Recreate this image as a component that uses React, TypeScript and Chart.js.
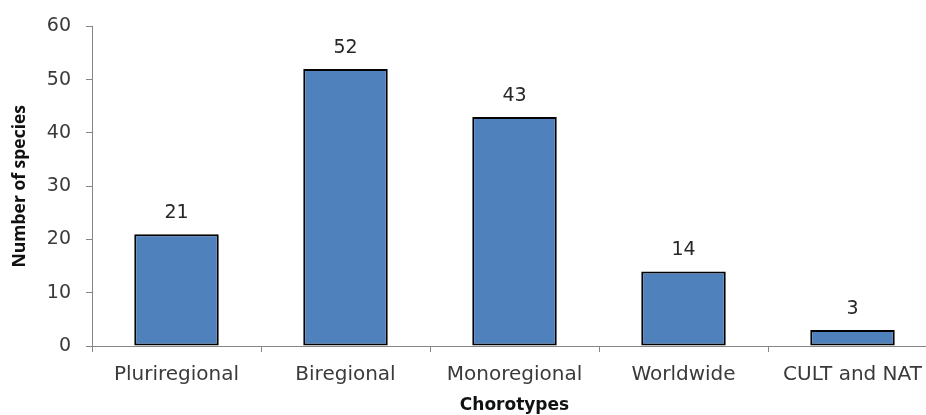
import React, { useEffect, useRef } from "react";
import { Chart, registerables } from "chart.js";

Chart.register(...registerables);

const categories = ["Pluriregional", "Biregional", "Monoregional", "Worldwide", "CULT and NAT"];
const speciesCounts = [21, 52, 43, 14, 3];
const yTicks = [0, 10, 20, 30, 40, 50, 60];

const AXIS_GREY = "#868686";
const TEXT_GREY = "#3a3a3a";

// Writes each bar's count just above it
const barValueLabels = {
  id: "barValueLabels",
  afterDatasetsDraw(chart: any) {
    const { ctx } = chart;
    const meta = chart.getDatasetMeta(0);
    ctx.save();
    ctx.font = "19px 'DejaVu Sans'";
    ctx.fillStyle = "#262626";
    ctx.textAlign = "center";
    ctx.textBaseline = "middle";
    meta.data.forEach((bar: any, i: number) => {
      ctx.fillText(String(speciesCounts[i]), bar.x, bar.y - 21);
    });
    ctx.restore();
  },
};

export default function App() {
  const canvasRef = useRef<HTMLCanvasElement | null>(null);

  useEffect(() => {
    if (!canvasRef.current) return;
    const chart = new Chart(canvasRef.current, {
      type: "bar",
      data: {
        labels: categories,
        datasets: [
          {
            data: speciesCounts,
            backgroundColor: "#4f81bd",
            borderColor: "#000000",
            borderWidth: 2,
            borderSkipped: false,
            categoryPercentage: 1,
            barPercentage: 0.5,
          },
        ],
      },
      options: {
        responsive: false,
        animation: false,
        layout: { padding: { left: 0, right: 8, top: 24, bottom: 0 } },
        plugins: {
          legend: { display: false },
          tooltip: { enabled: false },
        },
        scales: {
          x: {
            grid: {
              offset: true,
              drawOnChartArea: false,
              drawTicks: true,
              tickLength: 6,
              color: AXIS_GREY,
            },
            border: { color: AXIS_GREY, width: 1 },
            ticks: {
              color: TEXT_GREY,
              font: { family: "'DejaVu Sans'", size: 20 },
              padding: 11,
              maxRotation: 0,
              autoSkip: false,
            },
            title: {
              display: true,
              text: "Chorotypes",
              color: "#111111",
              font: { family: "'DejaVu Sans'", size: 17, weight: "bold" },
              padding: { top: 0, bottom: -1 },
            },
            afterFit(scale: any) {
              scale.height = 69;
            },
          },
          y: {
            min: 0,
            max: 60,
            afterBuildTicks(scale: any) {
              scale.ticks = yTicks.map((v) => ({ value: v }));
            },
            grid: {
              drawOnChartArea: false,
              drawTicks: true,
              tickLength: 6,
              color: AXIS_GREY,
            },
            border: { color: AXIS_GREY, width: 1 },
            ticks: {
              color: TEXT_GREY,
              font: { family: "'DejaVu Sans'", size: 19 },
              padding: 15,
            },
            title: {
              display: true,
              text: "Number of species",
              color: "#111111",
              font: { family: "'Open Sans'", size: 17.5, weight: "bold" },
              padding: { top: 10, bottom: 0 },
            },
            afterFit(scale: any) {
              scale.width = 92;
            },
          },
        },
      },
      plugins: [barValueLabels],
    });
    return () => chart.destroy();
  }, []);

  return (
    <div
      style={{
        position: "fixed",
        left: 0,
        top: 0,
        width: 926,
        height: 415,
        overflow: "hidden",
        background: "#ffffff",
      }}
    >
      <canvas ref={canvasRef} width={945} height={415} style={{ display: "block" }} />
    </div>
  );
}
